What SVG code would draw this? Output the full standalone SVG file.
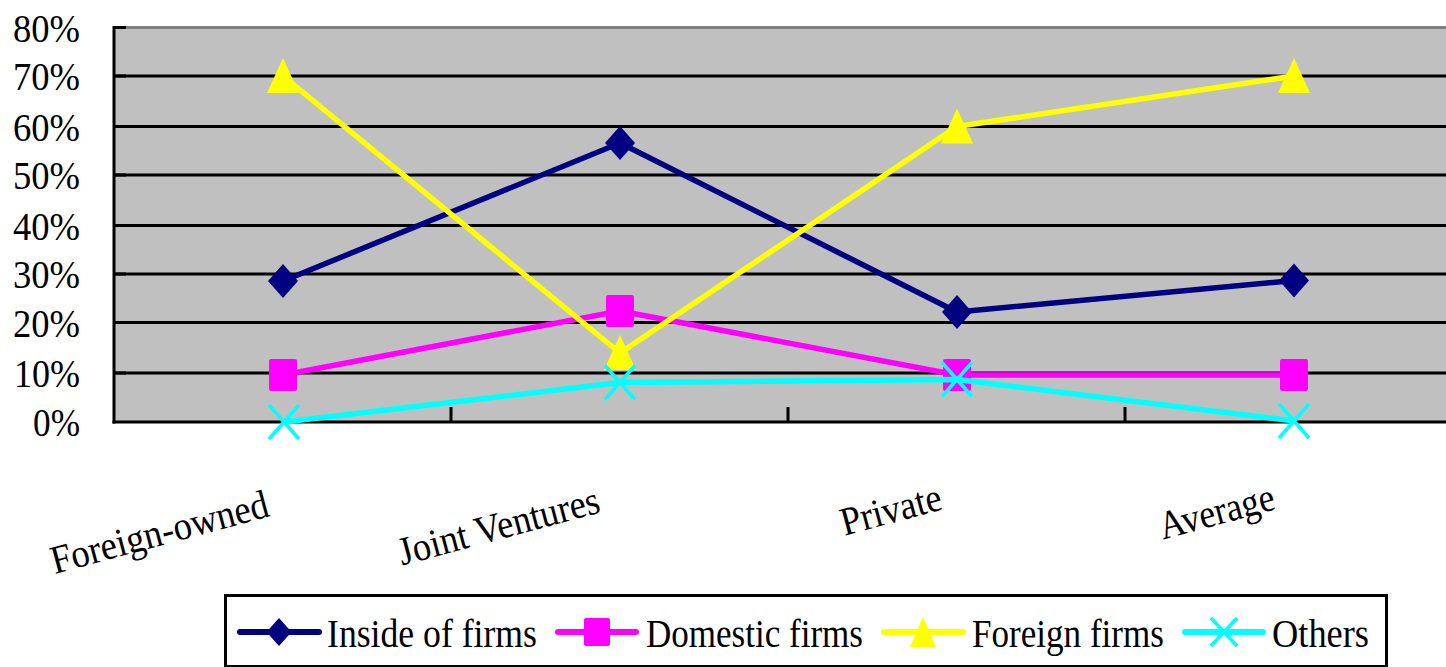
<svg xmlns="http://www.w3.org/2000/svg" xmlns:xlink="http://www.w3.org/1999/xlink" width="1446" height="667" viewBox="0 0 1446 667">
<style>
text{font-family:"Liberation Serif","Times New Roman",serif;fill:#000}
.yl{font-size:40px;text-anchor:end}
.xl{font-size:40px;text-anchor:end}
.lg{font-size:41px}
.grid{stroke:#000;stroke-width:3}
.axis{stroke:#000;stroke-width:3;fill:none}
.s{fill:none;stroke-width:5.5;stroke-linejoin:round}
.navy{stroke:#000080}
.mag{stroke:#FF00FF}
.yel{stroke:#FFFF00}
.cyan{stroke:#00FFFF}
.ls{stroke-width:6;stroke-linecap:round}
</style>
<defs>
<path id="dia" d="M0,-17 L15,0 L0,17 L-15,0Z" fill="#000080"/>
<rect id="sq" x="-14" y="-16" width="28" height="32" rx="2" fill="#FF00FF"/>
<path id="tri" d="M0,-18 L16,17 L-16,17Z" fill="#FFFF00"/>
<path id="xx" d="M-15,-17 L15,17 M-15,17 L15,-17" stroke="#00FFFF" stroke-width="3.5" fill="none"/>
<path id="ldia" d="M0,-14 L12.5,0 L0,14 L-12.5,0Z" fill="#000080"/>
<rect id="lsq" x="-13" y="-14" width="26" height="28" rx="2" fill="#FF00FF"/>
<path id="ltri" d="M0,-15 L13,15 L-13,15Z" fill="#FFFF00"/>
<path id="lxx" d="M-13,-14 L13,14 M-13,14 L13,-14" stroke="#00FFFF" stroke-width="3.5" fill="none"/>
</defs>

<g id="plot-area">
<rect x="114" y="27" width="1340" height="395" fill="#C0C0C0"/>
<line x1="114" y1="27.5" x2="1446" y2="27.5" stroke="#808080" stroke-width="3"/>
<g id="gridlines">
<line class="grid" x1="114" y1="76" x2="1446" y2="76"/>
<line class="grid" x1="114" y1="126.5" x2="1446" y2="126.5"/>
<line class="grid" x1="114" y1="175" x2="1446" y2="175"/>
<line class="grid" x1="114" y1="225.5" x2="1446" y2="225.5"/>
<line class="grid" x1="114" y1="274" x2="1446" y2="274"/>
<line class="grid" x1="114" y1="322.5" x2="1446" y2="322.5"/>
<line class="grid" x1="114" y1="373" x2="1446" y2="373"/>
</g>
<g id="axes">
<line class="axis" x1="114" y1="26" x2="114" y2="423.5"/>
<line class="axis" x1="112.5" y1="422" x2="1446" y2="422"/>
<path class="axis" d="M114,27.5H126M114,76H126M114,126.5H126M114,175H126M114,225.5H126M114,274H126M114,322.5H126M114,373H126"/>
<path class="axis" d="M451,407V422M788,407V422M1125,407V422"/>
</g>
</g>

<g id="y-labels">
<text class="yl" x="80" y="42" textLength="67" lengthAdjust="spacingAndGlyphs">80%</text>
<text class="yl" x="80" y="90" textLength="67" lengthAdjust="spacingAndGlyphs">70%</text>
<text class="yl" x="80" y="140.5" textLength="67" lengthAdjust="spacingAndGlyphs">60%</text>
<text class="yl" x="80" y="189" textLength="67" lengthAdjust="spacingAndGlyphs">50%</text>
<text class="yl" x="80" y="239.5" textLength="67" lengthAdjust="spacingAndGlyphs">40%</text>
<text class="yl" x="80" y="288" textLength="67" lengthAdjust="spacingAndGlyphs">30%</text>
<text class="yl" x="80" y="336.5" textLength="67" lengthAdjust="spacingAndGlyphs">20%</text>
<text class="yl" x="80" y="387" textLength="66" lengthAdjust="spacingAndGlyphs">10%</text>
<text class="yl" x="80" y="436" textLength="47" lengthAdjust="spacingAndGlyphs">0%</text>
</g>

<g id="x-labels">
<text class="xl" x="271" y="516" transform="rotate(-15 271 516)" textLength="224" lengthAdjust="spacingAndGlyphs">Foreign-owned</text>
<text class="xl" x="602" y="512" transform="rotate(-15 602 512)" textLength="207" lengthAdjust="spacingAndGlyphs">Joint Ventures</text>
<text class="xl" x="944" y="509" transform="rotate(-15 944 509)" textLength="103" lengthAdjust="spacingAndGlyphs">Private</text>
<text class="xl" x="1277" y="509" transform="rotate(-15 1277 509)" textLength="118" lengthAdjust="spacingAndGlyphs">Average</text>
</g>

<g id="connectors">
<g id="series-inside">
<polyline class="s navy" points="283,281 620,143 957,312 1294,280.5"/>
<use href="#dia" x="283" y="281"/><use href="#dia" x="620" y="143"/><use href="#dia" x="957" y="312"/><use href="#dia" x="1294" y="280.5"/>
</g>
<g id="series-domestic">
<polyline class="s mag" points="283,375 620,311 957,375 1294,375"/>
<use href="#sq" x="283" y="375"/><use href="#sq" x="620" y="311"/><use href="#sq" x="957" y="375"/><use href="#sq" x="1294" y="375"/>
</g>
<g id="series-foreign">
<polyline class="s yel" points="283,76 620,353 957,126.5 1294,76"/>
<use href="#tri" x="283" y="76"/><use href="#tri" x="620" y="353"/><use href="#tri" x="957" y="126.5"/><use href="#tri" x="1294" y="76"/>
</g>
<g id="series-others">
<polyline class="s cyan" points="284,422 620,382.5 957,379.5 1294,421"/>
<use href="#xx" x="284" y="422"/><use href="#xx" x="620" y="382.5"/><use href="#xx" x="957" y="379.5"/><use href="#xx" x="1294" y="421"/>
</g>
</g>

<g id="legend">
<rect x="225.5" y="595.5" width="1161" height="71" fill="#fff" stroke="#000" stroke-width="3"/>
<g id="legend-inside">
<line class="navy ls" x1="240" y1="632" x2="319" y2="632"/>
<use href="#ldia" x="279" y="632"/>
<text class="lg" x="327" y="647" textLength="210" lengthAdjust="spacingAndGlyphs">Inside of firms</text>
</g>
<g id="legend-domestic">
<line class="mag ls" x1="558" y1="632" x2="636" y2="632"/>
<use href="#lsq" x="597" y="632"/>
<text class="lg" x="646" y="647" textLength="217" lengthAdjust="spacingAndGlyphs">Domestic firms</text>
</g>
<g id="legend-foreign">
<line class="yel ls" x1="884" y1="632" x2="963" y2="632"/>
<use href="#ltri" x="923" y="632"/>
<text class="lg" x="972" y="647" textLength="192" lengthAdjust="spacingAndGlyphs">Foreign firms</text>
</g>
<g id="legend-others">
<line class="cyan ls" x1="1185" y1="632" x2="1263" y2="632"/>
<use href="#lxx" x="1224" y="632"/>
<text class="lg" x="1272" y="647" textLength="97" lengthAdjust="spacingAndGlyphs">Others</text>
</g>
</g>
</svg>
